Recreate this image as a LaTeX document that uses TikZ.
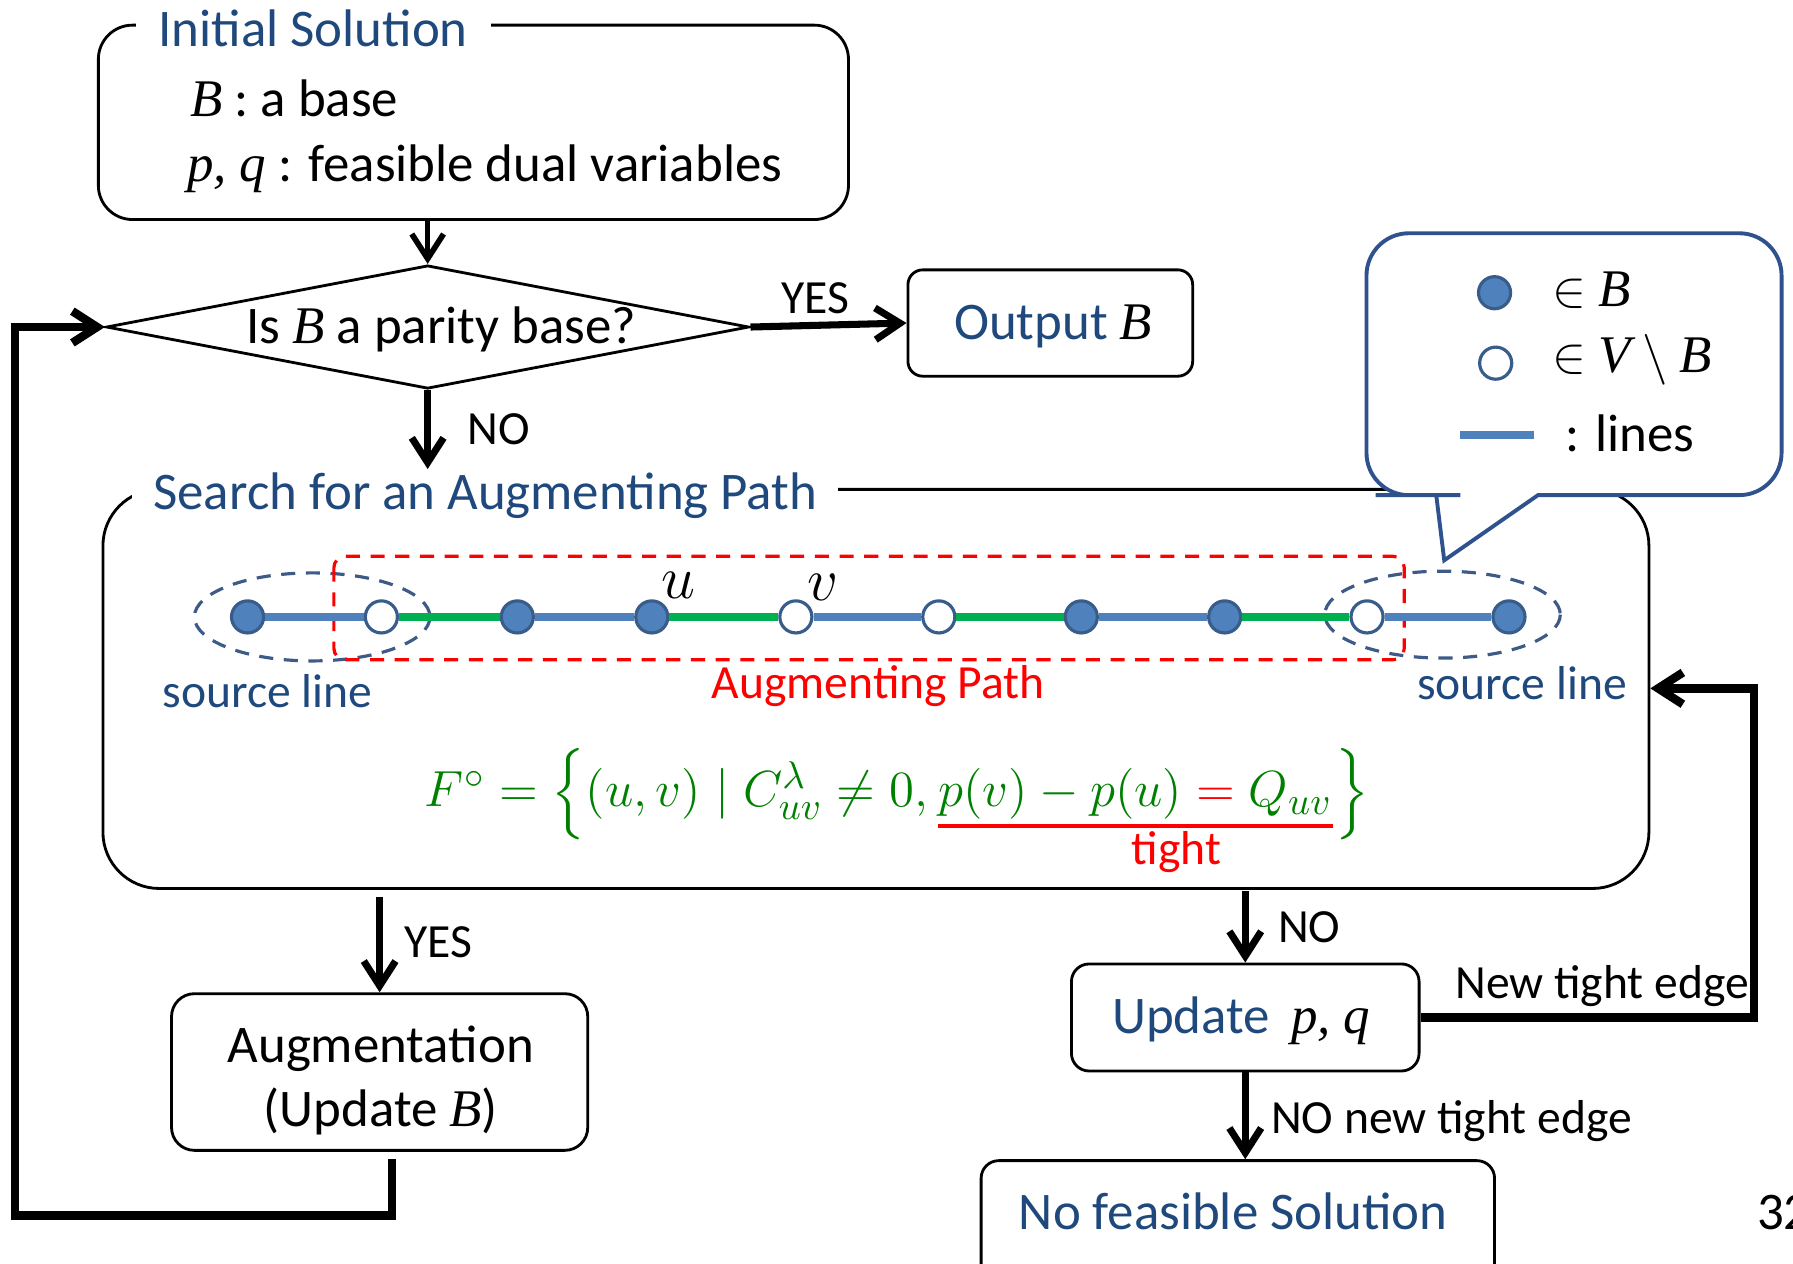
\documentclass[tikz,border=0pt]{standalone}
\usepackage{amsmath}
\usepackage{fontspec}
\setmainfont{Carlito}
\newfontfamily\tms{Liberation Serif}
\usetikzlibrary{arrows.meta,shapes.geometric,fit}
\definecolor{titleblue}{RGB}{31,73,125}
\definecolor{nodeblue}{RGB}{79,129,189}
\definecolor{nodeedge}{RGB}{56,93,138}
\definecolor{linegreen}{RGB}{0,176,80}
\definecolor{formgreen}{RGB}{0,128,0}
\definecolor{calloutblue}{RGB}{47,82,143}
\definecolor{ringblue}{RGB}{62,90,135}
\newcommand\ti[1]{{\tms\itshape #1}}

\begin{document}
\begin{tikzpicture}[x=0.0114cm,y=-0.0114cm,
  box/.style={draw,line width=0.8pt,inner sep=0pt},
  big/.style={font=\fontsize{15}{18}\selectfont},
  small/.style={font=\fontsize{13.5}{16}\selectfont},
  formula/.style={inner sep=0pt,text=formgreen,font=\fontsize{15.3}{18}\selectfont},
  flow/.style={line width=2pt,-{Straight Barb[length=7pt,width=9pt]}},
  vin/.style={circle,draw=nodeedge,line width=0.9pt,fill=nodeblue,minimum size=9.1pt,inner sep=0pt},
  vout/.style={vin,fill=white},
  bl/.style={nodeblue,line width=2.3pt},
  gr/.style={linegreen,line width=2.3pt},
  ring/.style={ringblue,line width=0.9pt,dash pattern=on 4pt off 3pt},
]
\useasboundingbox (0,0) rectangle (1568,1105);
\clip (0,0) rectangle (1568,1105);

% initial solution
\node[box,rounded corners=9.7pt,fit={(86,22)(742,192)}] (init) {};
\node[big,text=titleblue,fill=white,anchor=base west,inner xsep=6.5pt,inner ysep=2pt] (inittitle) at (118,41) {Initial Solution};
\node[big,anchor=base west,inner sep=0pt] (initl1) at (166,102) {\ti{B} : a base};
\node[big,anchor=base west,inner sep=0pt] (initl2) at (163,159) {\ti{p, q} : feasible dual variables};

% parity test
\node[diamond,draw,line width=0.8pt,inner sep=0pt,minimum width=182.3pt,minimum height=35pt] (dia) at (374,286) {};
\node[big,anchor=base,inner sep=0pt] (diatext) at (386,300) {Is \ti{B} a parity base?};
\draw[flow,line width=1.6pt] (init.south -| dia.north) -- (dia.north);

% output
\node[box,rounded corners=4.2pt,fit={(794,236)(1043,329)}] (out) {};
\node[big,anchor=base,inner sep=0pt] (outtext) at (921,297) {\textcolor{titleblue}{Output} \ti{B}};
\draw[flow] (dia.east) -- (out.west);
\node[small,anchor=base,inner sep=0pt] (yes1) at (713,274) {YES};

% search box
\node[box,rounded corners=16pt,fit={(90,428)(1442,777)}] (search) {};
\node[big,text=titleblue,fill=white,anchor=base west,inner xsep=6pt,inner ysep=1pt] (stitle) at (115,446) {Search for an Augmenting Path};
\draw[flow] (dia.south) -- (dia.south |- stitle.north);
\node[small,anchor=base,inner sep=0pt] (no1) at (436,389) {NO};

% legend callout
\draw[calloutblue,line width=1.1pt,fill=white]
  (1400,433) [rounded corners=12pt] -- (1558,433) -- (1558,204) -- (1195,204)
  -- (1195,433) -- (1240,433) [sharp corners] -- (1256,433) -- (1263,490) -- (1345,433) -- cycle;
\node[vin] (key1) at (1307,256) {};
\node[big,anchor=base west,inner sep=0pt] (key1t) at (1357,268) {$\in$ \ti{B}};
\node[vout] (key2) at (1308,317.6) {};
\node[big,anchor=base west,inner sep=0pt] (key2t) at (1357,326) {$\in$ \ti{V} $\setminus$ \ti{B}};
\coordinate (keya) at (1277,380.5);
\coordinate (keyb) at (1341.5,380.5);
\draw[nodeblue,line width=2.2pt] (keya) -- (keyb);
\node[big,anchor=base west,inner sep=0pt] (key3t) at (1368,395) {: lines};

% the alternating path
\draw[ring] (273,539.5) ellipse [x radius=103, y radius=38.5];
\draw[ring] (1261.5,537.5) ellipse [x radius=103, y radius=38];
\draw[red,line width=0.9pt,dash pattern=on 4pt off 3pt,rounded corners=3.2pt] (292,486.5) rectangle (1228,577);

\node[vin]  (v1)  at (216.5,539.5) {};
\node[vout] (v2)  at (333.5,539.5) {};
\node[vin]  (v3)  at (452.4,539.5) {};
\node[vin]  (v4)  at (570,539.5) {};
\node[vout] (v5)  at (696,539.5) {};
\node[vout] (v6)  at (821,539.5) {};
\node[vin]  (v7)  at (945.6,539.5) {};
\node[vin]  (v8)  at (1071,539.5) {};
\node[vout] (v9)  at (1195.5,539.5) {};
\node[vin]  (v10) at (1319.6,539.5) {};
\draw[bl] (v1) -- (v2);
\draw[gr] (v2) -- (v3);
\draw[bl] (v3) -- (v4);
\draw[gr] (v4) -- (v5);
\draw[bl] (v5) -- (v6);
\draw[gr] (v6) -- (v7);
\draw[bl] (v7) -- (v8);
\draw[gr] (v8) -- (v9);
\draw[bl] (v9) -- (v10);
\node[anchor=base,inner sep=0pt,font=\fontsize{16}{19}\selectfont] (ulab) at (593,523) {$u$};
\node[anchor=base,inner sep=0pt,font=\fontsize{16}{19}\selectfont] (vlab) at (720,525) {$v$};

\node[small,text=titleblue,anchor=base,inner sep=0pt] (src1) at (234,619) {source line};
\node[small,text=titleblue,anchor=base,inner sep=0pt] (src2) at (1331,612) {source line};
\node[small,text=red,anchor=base,inner sep=0pt] (aplab) at (768,611) {Augmenting Path};

% tight edges
\node[formula,anchor=base west] (form1) at (371,705.5)
  {$F^{\circ} = \Bigl\{(u,v)\mid C^{\lambda}_{uv}\neq 0,$};
\node[formula,anchor=base west] (form2) at ([xshift=2.5pt]form1.base east)
  {$p(v)-p(u)\mathrel{\textcolor{red}{=}}Q_{uv}$};
\node[formula,anchor=base west] (form3) at ([xshift=0.5pt]form2.base east) {$\Bigr\}$};
\draw[red,line width=1pt] ([yshift=-1.6pt]form2.south west) -- ([yshift=-1.6pt]form2.south east);
\node[small,text=red,anchor=base,inner sep=0pt] (tightlab) at (1029,756) {tight};

% augmentation
\node[box,rounded corners=6.5pt,fit={(150,869)(514,1006)}] (aug) {};
\node[big,anchor=base,inner sep=0pt] (augt1) at (333,929) {Augmentation};
\node[big,anchor=base,inner sep=0pt] (augt2) at (333,985) {(Update \ti{B})};
\draw[flow] ([yshift=-2pt]search.south -| aug.north) -- (aug.north);
\node[small,anchor=base,inner sep=0pt] (yes2) at (383,837) {YES};
\coordinate (loopcorner) at (13,1063);
\draw[flow,line width=2.4pt] ([xshift=3.5pt,yshift=-2pt]aug.south) |- (loopcorner) |- (dia.west);

% update of the dual variables
\node[box,rounded corners=5pt,fit={(937,843)(1241,936.6)}] (upd) {};
\node[big,anchor=base west,inner sep=0pt] (updt) at (972,903.5) {\textcolor{titleblue}{Update}\hspace{6pt}\ti{p, q}};
\draw[flow] ([yshift=-0.3pt]search.south -| upd.north) -- (upd.north);
\node[small,anchor=base,inner sep=0pt] (no2) at (1145,824) {NO};

\coordinate (fback) at (1534,602);
\draw[flow,line width=2.4pt] (upd.east) -| (fback) -- (search.east |- fback);
\node[small,anchor=base,inner sep=0pt] (newt) at (1401,873) {New tight edge};

% no solution
\node[box,rounded corners=5pt,fit={(858,1015)(1307,1125)}] (nofs) {};
\node[big,text=titleblue,anchor=base,inner sep=0pt] (nofst) at (1078.5,1075) {No feasible Solution};
\draw[flow] (upd.south) -- (upd.south |- nofs.north);
\node[small,anchor=base west,inner sep=0pt] (nonew) at (1111,991) {NO new tight edge};

\node[big,anchor=base west,inner sep=0pt] (pagenum) at (1536,1075) {32};
\end{tikzpicture}
\end{document}
